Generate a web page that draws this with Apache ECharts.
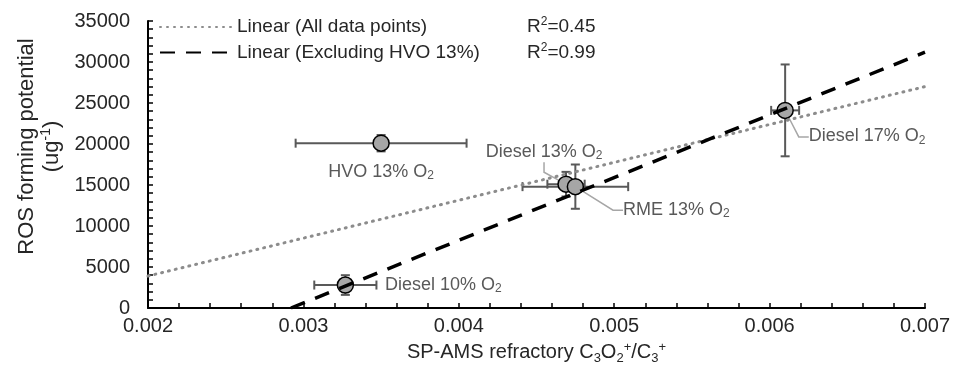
<!DOCTYPE html>
<html>
<head>
<meta charset="utf-8">
<script src="https://cdn.jsdelivr.net/npm/echarts@6/dist/echarts.min.js"></script>
<style>
html, body { margin: 0; padding: 0; background: #fff; }
#main { width: 953px; height: 365px; }
</style>
</head>
<body>
<div id="main"></div>
<script>
// 数据
var pointNames = ['Diesel 10%', 'HVO 13%', 'Diesel 13%', 'RME 13%', 'Diesel 17%'];
var xVals = [0.00327, 0.0035, 0.00469, 0.00475, 0.0061];
var yVals = [2800, 20100, 15100, 14800, 24100];
var xErr = [0.0002, 0.00055, 0.00012, 0.00034, 0.00009];
var yErr = [1200, 1000, 1500, 2700, 5600];

// 趋势线端点
var trendAllX = [0.002, 0.007];
var trendAllY = [3900, 27000];
var trendExX = [0.00292, 0.007];
var trendExY = [0, 31200];

var legendNames = ['Linear (All data points)', 'Linear (Excluding HVO 13%)'];
var r2Vals = ['0.45', '0.99'];

// 标签偏移（标签中心相对点中心）以及是否画引导线
var labelOffsets = [[98, 0], [0, 29], [-22, -32], [101, 23], [82, 26]];
var labelLeader = [false, false, true, true, true];

var chart = echarts.init(document.getElementById('main'));

var font = 'Liberation Sans, Arial, sans-serif';
var txt = '#262626';

var scatterData = xVals.map(function (x, i) {
    return {
        name: pointNames[i],
        value: [x, yVals[i]],
        labelLine: { show: labelLeader[i] }
    };
});

var errData = xVals.map(function (x, i) {
    return [x, yVals[i], xErr[i], yErr[i]];
});

function errorBars(params, api) {
    var x = api.value(0), y = api.value(1), ex = api.value(2), ey = api.value(3);
    var l = api.coord([x - ex, y]);
    var r = api.coord([x + ex, y]);
    var t = api.coord([x, y + ey]);
    var b = api.coord([x, y - ey]);
    var c = 4.5;
    var st = { stroke: '#595959', lineWidth: 2, fill: null };
    return {
        type: 'group',
        children: [
            { type: 'line', shape: { x1: l[0], y1: l[1], x2: r[0], y2: r[1] }, style: st },
            { type: 'line', shape: { x1: l[0], y1: l[1] - c, x2: l[0], y2: l[1] + c }, style: st },
            { type: 'line', shape: { x1: r[0], y1: r[1] - c, x2: r[0], y2: r[1] + c }, style: st },
            { type: 'line', shape: { x1: t[0], y1: t[1], x2: b[0], y2: b[1] }, style: st },
            { type: 'line', shape: { x1: t[0] - c, y1: t[1], x2: t[0] + c, y2: t[1] }, style: st },
            { type: 'line', shape: { x1: b[0] - c, y1: b[1], x2: b[0] + c, y2: b[1] }, style: st }
        ]
    };
}

var option = {
    animation: false,
    textStyle: { fontFamily: font },
    grid: { left: 148, right: 28, top: 21, bottom: 57, outerBoundsMode: 'none', containLabel: false },
    legend: {
        orient: 'vertical',
        left: 154,
        top: 11,
        itemWidth: 72,
        itemHeight: 14,
        itemGap: 5,
        selectedMode: false,
        itemStyle: { opacity: 0 },
        data: legendNames,
        formatter: function (name) {
            var i = legendNames.indexOf(name);
            return '{n|' + name + '}{r|R}{s|2}{r|=' + r2Vals[i] + '}';
        },
        textStyle: {
            rich: {
                n: { width: 290, fontSize: 19, lineHeight: 22, color: txt, fontFamily: font },
                r: { fontSize: 19, lineHeight: 22, color: txt, fontFamily: font },
                s: { fontSize: 12, lineHeight: 12, verticalAlign: 'top', color: txt, fontFamily: font }
            }
        }
    },
    xAxis: {
        type: 'value',
        min: 0.002,
        max: 0.007,
        interval: 0.001,
        name: '{a|SP-AMS refractory C}{sub|3}{a|O}{sub|2}{sup|+}{a|/C}{sub|3}{sup|+}',
        nameLocation: 'middle',
        nameGap: 32,
        nameTextStyle: {
            rich: {
                a: { fontSize: 20, lineHeight: 24, color: txt, fontFamily: font },
                sub: { fontSize: 13, lineHeight: 13, verticalAlign: 'bottom', color: txt, fontFamily: font },
                sup: { fontSize: 13, lineHeight: 13, verticalAlign: 'top', color: txt, fontFamily: font }
            }
        },
        axisLine: { show: true, onZero: false, lineStyle: { color: '#000', width: 2 } },
        axisTick: { show: true, inside: true, length: 5, lineStyle: { color: '#000', width: 1.5 } },
        minorTick: { show: true, splitNumber: 5, length: 5, lineStyle: { color: '#000', width: 1.5 } },
        splitLine: { show: false },
        axisLabel: {
            fontSize: 20, color: txt, margin: 8,
            formatter: function (v) { return v.toFixed(3); }
        }
    },
    yAxis: {
        type: 'value',
        min: 0,
        max: 35000,
        interval: 5000,
        name: '{a|ROS forming potential}\n{a|(ug}{sup|-1}{a|)}',
        nameLocation: 'middle',
        nameGap: 84,
        nameTextStyle: {
            padding: [0, 0, 0, 36],
            rich: {
                a: { fontSize: 22, lineHeight: 25, color: txt, fontFamily: font },
                sup: { fontSize: 14, lineHeight: 14, verticalAlign: 'top', color: txt, fontFamily: font }
            }
        },
        axisLine: { show: true, lineStyle: { color: '#000', width: 2 } },
        axisTick: { show: true, inside: true, length: 5, lineStyle: { color: '#000', width: 1.5 } },
        minorTick: { show: true, splitNumber: 5, length: 5, lineStyle: { color: '#000', width: 1.5 } },
        splitLine: { show: false },
        axisLabel: {
            fontSize: 20, color: txt, margin: 18,
            formatter: function (v) { return String(v); }
        }
    },
    series: [
        {
            type: 'custom',
            z: 1,
            silent: true,
            renderItem: errorBars,
            data: errData
        },
        {
            type: 'scatter',
            z: 2,
            symbol: 'circle',
            symbolSize: 16,
            itemStyle: { color: '#a6a6a6', borderColor: '#000', borderWidth: 1.5, opacity: 1 },
            label: {
                show: true,
                position: 'inside',
                formatter: function (p) { return '{a|' + p.name + ' O}{sub|2}'; },
                rich: {
                    a: { fontSize: 18, lineHeight: 20, color: '#595959', fontFamily: font },
                    sub: { fontSize: 12, lineHeight: 12, verticalAlign: 'bottom', color: '#595959', fontFamily: font }
                }
            },
            labelLayout: function (p) {
                var o = labelOffsets[p.dataIndex];
                return { dx: o[0], dy: o[1] };
            },
            labelLine: { show: true, length2: 10, lineStyle: { color: '#a6a6a6', width: 1.5 } },
            data: scatterData
        },
        {
            name: legendNames[0],
            type: 'line',
            z: 3,
            symbol: 'none',
            lineStyle: { color: '#8c8c8c', width: 3, type: [1, 6], cap: 'round' },
            itemStyle: { color: '#8c8c8c' },
            data: trendAllX.map(function (x, i) { return [x, trendAllY[i]]; })
        },
        {
            name: legendNames[1],
            type: 'line',
            z: 3,
            symbol: 'none',
            lineStyle: { color: '#000', width: 3.5, type: [15, 11] },
            itemStyle: { color: '#000' },
            data: trendExX.map(function (x, i) { return [x, trendExY[i]]; })
        }
    ]
};

chart.setOption(option);
</script>
</body>
</html>
